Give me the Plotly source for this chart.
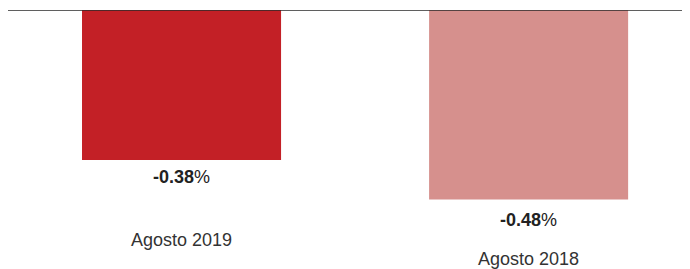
import plotly.graph_objects as go

categories = ["Agosto 2019", "Agosto 2018"]
values = [-0.38, -0.48]
value_labels = ["-0.38", "-0.48"]
colors = ["#C32026", "#D6908D"]

fig = go.Figure()
fig.add_trace(go.Bar(
    x=list(range(len(categories))), y=values,
    marker=dict(color=colors, line=dict(width=0)),
    width=0.5735, hoverinfo="skip",
))

FONT = "Liberation Sans, Arial, sans-serif"
val_shifts = [-17, -20]
cat_shifts = [-80, -59]
for i, (cat, v, lab) in enumerate(zip(categories, values, value_labels)):
    fig.add_annotation(x=i, y=v, xref="x", yref="y", text=f"<b>{lab}</b>%",
                       showarrow=False, yanchor="middle", yshift=val_shifts[i],
                       font=dict(family=FONT, size=18, color="#222222"))
    fig.add_annotation(x=i, y=v, xref="x", yref="y", text=cat,
                       showarrow=False, yanchor="middle", yshift=cat_shifts[i],
                       font=dict(family=FONT, size=18, color="#333333"))

fig.add_shape(type="line", xref="paper", yref="y", x0=0, x1=1, y0=0, y1=0,
              line=dict(color="#2a2a2a", width=1.6), layer="above")

fig.update_layout(
    width=682, height=261,
    margin=dict(l=0, r=0, t=2, b=0),
    paper_bgcolor="white", plot_bgcolor="white",
    showlegend=False,
    xaxis=dict(range=[-0.5, 1.465], visible=False),
    yaxis=dict(range=[-0.6557, 0], visible=False),
)

fig.write_html("out.html")
